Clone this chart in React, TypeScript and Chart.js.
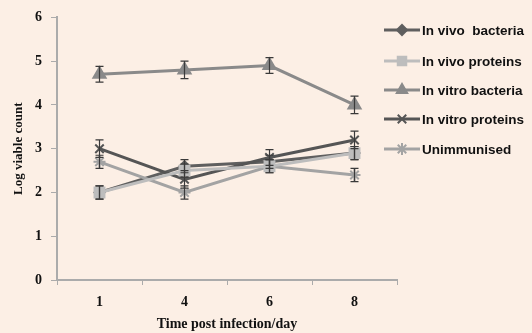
import React, { useEffect, useRef } from "react";
import { Chart, registerables } from "chart.js";
import { drawPoint } from "chart.js/helpers";

Chart.register(...registerables);

const categories = ["1", "4", "6", "8"];
const seriesNames = ["In vivo  bacteria", "In vivo proteins", "In vitro bacteria", "In vitro proteins", "Unimmunised"];
const inVivoBacteria = [2.0, 2.6, 2.7, 2.9];
const inVivoProteins = [2.0, 2.5, 2.6, 2.9];
const inVitroBacteria = [4.7, 4.8, 4.9, 4.0];
const inVitroProteins = [3.0, 2.3, 2.8, 3.2];
const unimmunised = [2.7, 2.0, 2.6, 2.4];
const errInVivoBacteria = [0.15, 0.15, 0.15, 0.15];
const errInVivoProteins = [0.15, 0.15, 0.15, 0.15];
const errInVitroBacteria = [0.18, 0.2, 0.18, 0.2];
const errInVitroProteins = [0.2, 0.2, 0.18, 0.2];
const errUnimmunised = [0.15, 0.15, 0.15, 0.15];
const yTicks = [0, 1, 2, 3, 4, 5, 6];

const colors = ["#5f5f5f", "#bdbdbd", "#8a8a8a", "#555555", "#a3a3a3"];
const styles = ["rectRot", "rect", "triangle", "crossRot", "star"];
const radii = [5, 7, 7, 6, 6];
const orders = [5, 1, 2, 3, 4];

const bgPlugin = {
  id: "bg",
  beforeDraw(chart: any) {
    const ctx = chart.ctx;
    ctx.save();
    ctx.fillStyle = "#fcefe5";
    ctx.fillRect(0, 0, chart.width, chart.height);
    ctx.restore();
  },
};

const errorPlugin = {
  id: "errbars",
  afterDatasetsDraw(chart: any) {
    const ctx = chart.ctx;
    const ys = chart.scales.y;
    ctx.save();
    ctx.strokeStyle = "#3a3a3a";
    ctx.lineWidth = 1.2;
    chart.data.datasets.forEach((ds: any, i: number) => {
      const meta = chart.getDatasetMeta(i);
      meta.data.forEach((pt: any, j: number) => {
        const v = ds.data[j];
        const e = ds.errors[j];
        const x = pt.x;
        const y1 = ys.getPixelForValue(v + e);
        const y2 = ys.getPixelForValue(v - e);
        ctx.beginPath();
        ctx.moveTo(x, y1);
        ctx.lineTo(x, y2);
        ctx.moveTo(x - 4, y1);
        ctx.lineTo(x + 4, y1);
        ctx.moveTo(x - 4, y2);
        ctx.lineTo(x + 4, y2);
        ctx.stroke();
      });
    });
    ctx.restore();
  },
};

const legendPlugin = {
  id: "customLegend",
  afterDraw(chart: any) {
    const ctx = chart.ctx;
    ctx.save();
    const ys = [30, 61, 90, 119, 149];
    chart.data.datasets.forEach((ds: any, i: number) => {
      const y = ys[i];
      ctx.strokeStyle = ds.borderColor;
      ctx.lineWidth = 3;
      ctx.beginPath();
      ctx.moveTo(384, y);
      ctx.lineTo(420, y);
      ctx.stroke();
      ctx.fillStyle = ds.borderColor;
      ctx.strokeStyle = ds.borderColor;
      ctx.lineWidth = 2;
      drawPoint(ctx, { pointStyle: ds.pointStyle, radius: Math.min(ds.pointRadius, 6), borderWidth: 2, rotation: 0 } as any, 402, y);
      ctx.fillStyle = "#111";
      ctx.font = "bold 13.5px 'Liberation Sans', Arial, sans-serif";
      ctx.textBaseline = "middle";
      ctx.textAlign = "left";
      ctx.fillText(seriesNames[i], 422, y + 1);
    });
    ctx.restore();
  },
};

export default function App() {
  const ref = useRef<HTMLCanvasElement | null>(null);
  useEffect(() => {
    if (!ref.current) return;
    const values = [inVivoBacteria, inVivoProteins, inVitroBacteria, inVitroProteins, unimmunised];
    const errs = [errInVivoBacteria, errInVivoProteins, errInVitroBacteria, errInVitroProteins, errUnimmunised];
    const chart = new Chart(ref.current, {
      type: "line",
      data: {
        labels: categories,
        datasets: values.map((d, i) => ({
          label: seriesNames[i],
          data: d,
          errors: errs[i],
          order: orders[i],
          borderColor: colors[i],
          backgroundColor: colors[i],
          borderWidth: 3,
          pointStyle: styles[i],
          pointRadius: radii[i],
          pointBorderWidth: 2,
          pointBackgroundColor: colors[i],
          pointBorderColor: colors[i],
          tension: 0,
        })) as any,
      },
      options: {
        animation: false,
        responsive: false,
        layout: { padding: { top: 15, right: 135, left: 0, bottom: 0 } },
        plugins: { legend: { display: false }, tooltip: { enabled: false } },
        scales: {
          x: {
            type: "category",
            offset: true,
            afterFit(s: any) { s.height = 53; },
            grid: { display: true, drawOnChartArea: false, offset: true, tickLength: 5, color: "#ababab" },
            border: { color: "#ababab", width: 2 },
            ticks: { color: "#111", padding: 9, font: { family: "'Liberation Serif', serif", size: 14, weight: "bold" } },
            title: { display: true, text: "Time post infection/day", color: "#111", padding: { top: 3, bottom: 0 }, font: { family: "'Liberation Serif', serif", size: 14, weight: "bold" } },
          },
          y: {
            min: 0,
            max: 6,
            afterFit(s: any) { s.width = 57; },
            afterBuildTicks(s: any) { s.ticks = yTicks.map((v) => ({ value: v })); },
            grid: { display: true, drawOnChartArea: false, tickLength: 6, color: "#ababab" },
            border: { color: "#ababab", width: 2 },
            ticks: { color: "#111", padding: 9, font: { family: "'Liberation Serif', serif", size: 14, weight: "bold" } },
            title: { display: true, text: "Log viable count", color: "#111", padding: { top: 11, bottom: 0 }, font: { family: "'Liberation Serif', serif", size: 13, weight: "bold" } },
          },
        },
      } as any,
      plugins: [bgPlugin, errorPlugin, legendPlugin],
    });
    return () => chart.destroy();
  }, []);
  return (
    <div style={{ position: "fixed", left: 0, top: 0, width: 532, height: 333 }}>
      <canvas ref={ref} width={532} height={333} style={{ width: 532, height: 333 }} />
    </div>
  );
}
